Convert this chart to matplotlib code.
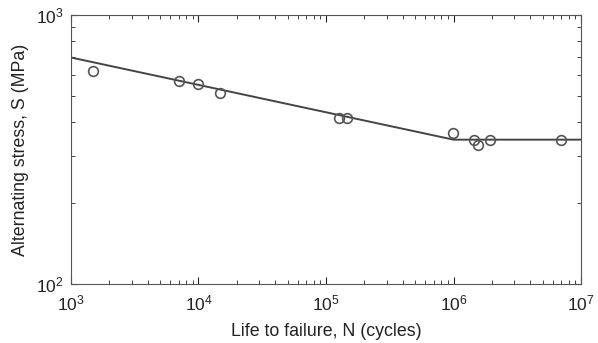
import matplotlib
matplotlib.use('Agg')
import matplotlib.pyplot as plt
from matplotlib.ticker import LogLocator, NullFormatter

plt.rcParams['font.family'] = ['Liberation Sans', 'DejaVu Sans']
plt.rcParams['mathtext.fontset'] = 'custom'
plt.rcParams['mathtext.rm'] = 'Liberation Sans'
plt.rcParams['mathtext.it'] = 'Liberation Sans:italic'

# test points (cycles, MPa)
N_test = [1.48e3, 7.0e3, 1.0e4, 1.48e4, 1.27e5, 1.47e5, 9.9e5, 1.46e6, 1.57e6, 1.93e6, 6.97e6]
S_test = [620, 569, 556, 515, 415, 415, 364, 344, 329, 344, 344]

# fitted S-N curve with endurance limit
N_fit = [1e3, 1e6, 1e7]
S_fit = [695, 344, 344]

fig = plt.figure(figsize=(5.98, 3.43), dpi=100)
ax = fig.add_axes([0.1187, 0.172, 0.8529, 0.7843])

ax.plot(N_fit, S_fit, '-', color='#444444', lw=1.4, zorder=2)
ax.plot(N_test, S_test, 'o', mfc='none', mec='#555555', mew=1.2, ms=7, zorder=3)

ax.set_xscale('log')
ax.set_yscale('log')
ax.set_xlim(1e3, 1e7)
ax.set_ylim(1e2, 1e3)

ax.yaxis.set_minor_locator(LogLocator(base=10, subs=range(2, 10)))
ax.yaxis.set_minor_formatter(NullFormatter())
ax.xaxis.set_minor_formatter(NullFormatter())
ax.tick_params(which='both', direction='in', top=True, right=True, labelsize=12.5, colors='#222222')
ax.tick_params(which='major', length=5, width=0.8)
ax.tick_params(which='minor', length=3, width=0.6)
ax.tick_params(axis='x', which='major', pad=7)
ax.tick_params(axis='y', which='major', pad=5)
for s in ax.spines.values():
    s.set_color('#555555')
    s.set_linewidth(0.8)

ax.set_xlabel('Life to failure, N (cycles)', fontsize=12.8, color='#222222', labelpad=7)
ax.set_ylabel('Alternating stress, S (MPa)', fontsize=12.8, color='#222222', labelpad=5)

plt.savefig('out.png', dpi=100)
